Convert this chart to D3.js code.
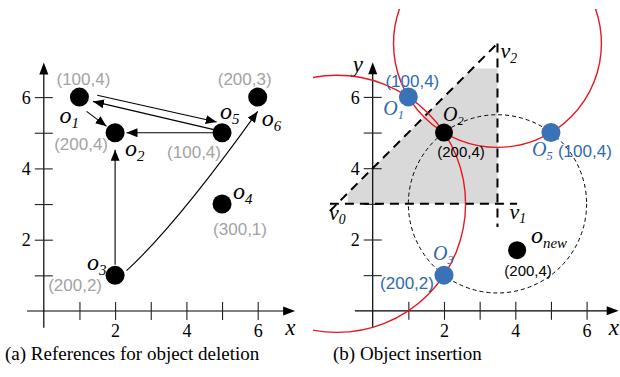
<!DOCTYPE html>
<html>
<head>
<meta charset="utf-8">
<script src="https://cdn.jsdelivr.net/npm/d3@7"></script>
<style>
  body { margin: 0; background: #fff; }
  svg { display: block; }
  .serif { font-family: "Liberation Serif", "Times New Roman", serif; }
  .sans { font-family: "Liberation Sans", Arial, sans-serif; }
</style>
</head>
<body>
<div id="chart"></div>
<script>
// ---- data ----
const tickValues = [1, 2, 3, 4, 5, 6];
const tickLabels = { 2: '2', 4: '4', 6: '6' };

// panel (a): objects and their references
const delNames = ['1', '2', '3', '4', '5', '6'];
const delX = [1, 2, 2, 5, 5, 6];
const delY = [6, 5, 1, 3, 5, 6];
const delCoords = ['(100,4)', '(200,4)', '(200,2)', '(300,1)', '(100,4)', '(200,3)'];
// straight reference arrows, [x1, y1, x2, y2] in chart units
const delArrows = [
    [1.5, 6.05, 4.85, 5.3],   // o1 -> o5
    [4.8, 5.08, 1.38, 5.88],  // o5 -> o1
    [1.2, 5.6, 1.76, 5.18],   // o1 -> o2
    [4.75, 5, 2.32, 5],       // o5 -> o2
    [2, 1.3, 2, 4.52]         // o3 -> o2
];
// curved arrow o3 -> o6: start, control, end
const delCurve = [[2.32, 1.13], [3.74, 2.44], [6, 5.6]];

// panel (b): insertion
const insNames = ['1', '2', '3', '5', 'new'];
const insX = [1, 2, 2, 5, 4.05];
const insY = [6, 5, 1, 5, 1.7];
const insCoords = ['(100,4)', '(200,4)', '(200,2)', '(100,4)', '(200,4)'];
const insKind = ['ref', 'old', 'ref', 'ref', 'new'];
const vertexNames = ['0', '1', '2'];
const vertexX = [-1, 3.5, 3.5];
const vertexY = [3, 3, 7.5];
const regionX = [-0.7, 3.5, 3.5, 2.8, -0.7];
const regionY = [3, 3, 6.8, 6.8, 3.3];

// ---- layout ----
const width = 620, height = 377;
const unit = 35.65;
const blue = '#3a72b8', blueText = '#2d69b2', gray = '#a3a3a3', red = '#e8161e';

const svg = d3.select('#chart').append('svg')
    .attr('width', width)
    .attr('height', height);

const defs = svg.append('defs');
defs.append('marker')
    .attr('id', 'arrow')
    .attr('markerUnits', 'userSpaceOnUse')
    .attr('markerWidth', 11).attr('markerHeight', 9)
    .attr('refX', 11).attr('refY', 4.5)
    .attr('orient', 'auto')
    .append('path').attr('d', 'M0,0 L11,4.5 L0,9 Z').attr('fill', '#000');
defs.append('clipPath').attr('id', 'clipB')
    .append('rect').attr('x', 313).attr('y', 9).attr('width', 307).attr('height', 328);

function drawAxes(g, x, y, xMin, xMax, yMin, yMax, withY) {
    // axis lines with arrow heads
    g.append('line')
        .attr('x1', x(xMin)).attr('y1', y(0)).attr('x2', x(xMax) - 10).attr('y2', y(0))
        .attr('stroke', '#000').attr('stroke-width', 1.2);
    g.append('path')
        .attr('d', `M${x(xMax)},${y(0)} l-12,-4.5 l0,9 Z`).attr('fill', '#000');
    g.append('line')
        .attr('x1', x(0)).attr('y1', y(yMin)).attr('x2', x(0)).attr('y2', y(yMax) + 10)
        .attr('stroke', '#000').attr('stroke-width', 1.2);
    g.append('path')
        .attr('d', `M${x(0)},${y(yMax)} l-4.5,12 l9,0 Z`).attr('fill', '#000');

    const xa = g.append('g').attr('transform', `translate(0,${y(0)})`)
        .call(d3.axisBottom(x).tickValues(tickValues).tickFormat(d => tickLabels[d] || ''));
    const ya = g.append('g').attr('transform', `translate(${x(0)},0)`)
        .call(d3.axisLeft(y).tickValues(tickValues).tickFormat(d => tickLabels[d] || ''));
    [xa, ya].forEach(a => {
        a.select('.domain').remove();
        a.selectAll('.tick line').attr('stroke', '#222').attr('stroke-width', 1.1);
        a.selectAll('.tick text').attr('class', 'serif').attr('font-size', 18).attr('fill', '#000');
    });
    xa.selectAll('.tick line').attr('y1', -9).attr('y2', 9);
    xa.selectAll('.tick text').attr('y', 13).attr('dy', '0.71em');
    ya.selectAll('.tick line').attr('x1', -9).attr('x2', 9);
    ya.selectAll('.tick text').attr('x', -13).attr('dy', '0.34em');

    g.append('text').attr('class', 'serif')
        .attr('x', x(xMax) - 10).attr('y', y(0) + 24)
        .attr('font-size', 23).attr('font-style', 'italic').text('x');
    if (withY) {
        g.append('text').attr('class', 'serif')
            .attr('x', x(0) - 20).attr('y', y(yMax) + 10)
            .attr('font-size', 23).attr('font-style', 'italic').text('y');
    }
}

function subLabel(g, px, py, main, sub, size, color) {
    const t = g.append('text').attr('class', 'serif')
        .attr('x', px).attr('y', py)
        .attr('font-style', 'italic').attr('fill', color).attr('font-size', size);
    t.append('tspan').text(main);
    t.append('tspan').attr('font-size', size * 0.62).attr('dy', size * 0.2).text(sub);
}

// ---- panel (a) ----
const xA = d3.scaleLinear().domain([0, 1]).range([43.8, 43.8 + unit]);
const yA = d3.scaleLinear().domain([0, 1]).range([311, 311 - unit]);
const gA = svg.append('g');
drawAxes(gA, xA, yA, -0.47, 7.05, -0.47, 6.97, false);

gA.selectAll('line.ref').data(delArrows).enter().append('line')
    .attr('class', 'ref')
    .attr('x1', d => xA(d[0])).attr('y1', d => yA(d[1]))
    .attr('x2', d => xA(d[2])).attr('y2', d => yA(d[3]))
    .attr('stroke', '#000').attr('stroke-width', 1.1)
    .attr('marker-end', 'url(#arrow)');

const curvePath = d3.path();
curvePath.moveTo(xA(delCurve[0][0]), yA(delCurve[0][1]));
curvePath.quadraticCurveTo(xA(delCurve[1][0]), yA(delCurve[1][1]), xA(delCurve[2][0]), yA(delCurve[2][1]));
gA.append('path').attr('d', curvePath.toString())
    .attr('fill', 'none').attr('stroke', '#000').attr('stroke-width', 1.1)
    .attr('marker-end', 'url(#arrow)');

gA.selectAll('circle.obj').data(delNames).enter().append('circle')
    .attr('class', 'obj')
    .attr('cx', (d, i) => xA(delX[i])).attr('cy', (d, i) => yA(delY[i]))
    .attr('r', 9.5).attr('fill', '#000');

// label offsets in px relative to each object: [coord dx, coord dy, name dx, name dy]
const delLabelPos = [
    [4, -12, -20, 26],
    [-34, 17, 10, 23],
    [-40, 16, -28, -5],
    [18, 31, 11, -5],
    [-28, 25, -2, -14],
    [-13, -12, 4, 29]
];
delNames.forEach((n, i) => {
    const px = xA(delX[i]), py = yA(delY[i]), o = delLabelPos[i];
    gA.append('text').attr('class', 'sans')
        .attr('x', px + o[0]).attr('y', py + o[1])
        .attr('text-anchor', 'middle').attr('font-size', 17).attr('fill', gray)
        .text(delCoords[i]);
    subLabel(gA, px + o[2], py + o[3], 'o', n, 24, '#000');
});

// ---- panel (b) ----
const xB = d3.scaleLinear().domain([0, 1]).range([372.7, 372.7 + unit]);
const yB = d3.scaleLinear().domain([0, 1]).range([310.8, 310.8 - unit]);
const gB = svg.append('g');

gB.append('path')
    .datum(regionX.map((x, i) => [x, regionY[i]]))
    .attr('d', d3.line().x(d => xB(d[0])).y(d => yB(d[1])).curve(d3.curveLinearClosed))
    .attr('fill', '#d9d9d9');

drawAxes(gB, xB, yB, -0.5, 6.9, -0.47, 6.97, true);

// dashed boundary of the region: y = x + 4, y = 3, x = 3.5
const dash = '9,6';
[[-1.2, 2.8, 3.5, 7.5], [-1.2, 3, 4.05, 3], [3.5, 7.5, 3.5, 2.35]].forEach(d => {
    gB.append('line')
        .attr('x1', xB(d[0])).attr('y1', yB(d[1]))
        .attr('x2', xB(d[2])).attr('y2', yB(d[3]))
        .attr('stroke', '#000').attr('stroke-width', 2).attr('stroke-dasharray', dash);
});

// circle around v1 through o2, o3, o5
const dist = (ax, ay, bx, by) => Math.hypot(ax - bx, ay - by);
gB.append('circle')
    .attr('cx', xB(vertexX[1])).attr('cy', yB(vertexY[1]))
    .attr('r', dist(vertexX[1], vertexY[1], insX[1], insY[1]) * unit)
    .attr('fill', 'none').attr('stroke', '#000').attr('stroke-width', 1)
    .attr('stroke-dasharray', '4,3');

// red circles around v0 and v2 through o2
const gRed = gB.append('g').attr('clip-path', 'url(#clipB)');
[0, 2].forEach(v => {
    gRed.append('circle')
        .attr('cx', xB(vertexX[v])).attr('cy', yB(vertexY[v]))
        .attr('r', dist(vertexX[v], vertexY[v], insX[1], insY[1]) * unit)
        .attr('fill', 'none').attr('stroke', red).attr('stroke-width', 1.4);
});

gB.selectAll('circle.obj').data(insNames).enter().append('circle')
    .attr('class', 'obj')
    .attr('cx', (d, i) => xB(insX[i])).attr('cy', (d, i) => yB(insY[i]))
    .attr('r', (d, i) => insKind[i] === 'ref' ? 9.5 : 9)
    .attr('fill', (d, i) => insKind[i] === 'ref' ? blue : '#000');

// vertex labels
const vertexPos = [[-8, 16], [12, 15], [3, 15]];
vertexNames.forEach((n, i) => {
    subLabel(gB, xB(vertexX[i]) + vertexPos[i][0], yB(vertexY[i]) + vertexPos[i][1], 'v', n, 22, '#000');
});

// [coord x, coord y, anchor, name dx, name dy]
const insLabelPos = [
    [4, -10, 'middle', -25, 18],
    [17, 24, 'middle', -1, -12],
    [-37, 14, 'middle', -11, -15],
    [7, 24, 'start', -19, 23],
    [11, 26, 'middle', 14, -7]
];
insNames.forEach((n, i) => {
    const px = xB(insX[i]), py = yB(insY[i]), o = insLabelPos[i];
    const isRef = insKind[i] === 'ref';
    gB.append('text').attr('class', 'sans')
        .attr('x', px + o[0]).attr('y', py + o[1])
        .attr('text-anchor', o[2]).attr('font-size', isRef ? 17 : 15)
        .attr('fill', isRef ? blueText : '#000')
        .text(insCoords[i]);
    if (n === 'new') {
        subLabel(gB, px + o[3], py + o[4], 'o', n, 24, '#000');
    } else {
        subLabel(gB, px + o[3], py + o[4], 'O', n, 20, isRef ? blueText : '#000');
    }
});

// ---- captions ----
svg.append('text').attr('class', 'serif')
    .attr('x', 5).attr('y', 360).attr('font-size', 19)
    .text('(a) References for object deletion');
svg.append('text').attr('class', 'serif')
    .attr('x', 333).attr('y', 360).attr('font-size', 19)
    .text('(b) Object insertion');
</script>
</body>
</html>
